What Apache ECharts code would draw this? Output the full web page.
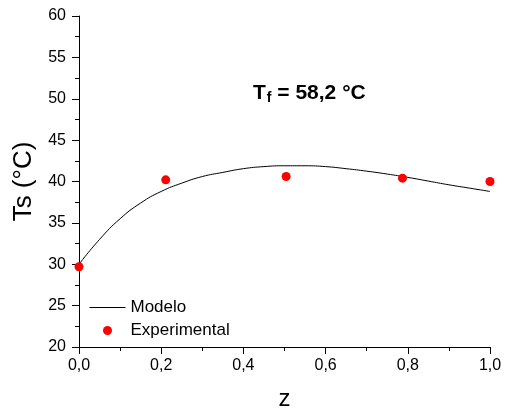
<!DOCTYPE html>
<html>
<head>
<meta charset="utf-8">
<script src="https://cdn.jsdelivr.net/npm/echarts@6/dist/echarts.min.js"></script>
<style>
  html, body { margin: 0; padding: 0; background: #fff; }
  #chart { width: 508px; height: 416px; }
</style>
</head>
<body>
<div id="chart"></div>
<script>
// curva do modelo
const zModel = [0, 0.05, 0.1, 0.15, 0.2, 0.25, 0.3, 0.35, 0.4, 0.45, 0.5, 0.55, 0.6, 0.65, 0.7, 0.75, 0.8, 0.85, 0.9, 0.95, 1.0]
const tsModel = [30.0, 33.0, 35.5, 37.4, 38.8, 39.8, 40.6, 41.1, 41.55, 41.8, 41.9, 41.9, 41.8, 41.55, 41.25, 40.9, 40.5, 40.05, 39.6, 39.2, 38.8]

// pontos experimentais
const zExp = [0, 0.211, 0.504, 0.787, 1.0]
const tsExp = [29.7, 40.2, 40.6, 40.4, 40.0]

const font = 'Liberation Sans, Arial, sans-serif'
const chart = echarts.init(document.getElementById('chart'))

chart.setOption({
  animation: false,
  backgroundColor: '#fff',
  title: {
    text: '{a|T}{b|f}{a| = 58,2 °C}',
    left: 248,
    top: 77,
    textStyle: {
      rich: {
        a: { fontFamily: font, fontSize: 21, fontWeight: 'bold', color: '#000' },
        b: { fontFamily: font, fontSize: 14, fontWeight: 'bold', color: '#000', padding: [9, 0, 0, 1] },
      },
    },
  },
  legend: {
    show: true,
    orient: 'vertical',
    left: 84,
    top: 294,
    itemWidth: 36,
    itemHeight: 9,
    itemGap: 6,
    textStyle: { fontFamily: font, fontSize: 17, color: '#000' },
    data: [
      { name: 'Modelo', itemStyle: { opacity: 0 }, lineStyle: { width: 1 } },
      'Experimental',
    ],
  },
  grid: { left: 79, right: 18, top: 16, bottom: 69 },
  xAxis: {
    type: 'value',
    min: 0,
    max: 1,
    interval: 0.2,
    name: 'z',
    nameLocation: 'middle',
    nameGap: 40,
    nameTextStyle: { fontFamily: font, fontSize: 24, color: '#000' },
    axisLine: { lineStyle: { color: '#000', width: 1 } },
    axisTick: { inside: false, length: 7, lineStyle: { color: '#000' } },
    minorTick: { show: true, splitNumber: 2, length: 4, lineStyle: { color: '#000' } },
    splitLine: { show: false },
    axisLabel: {
      fontFamily: font,
      fontSize: 16,
      color: '#000',
      margin: 11,
      formatter: (v) => v.toFixed(1).replace('.', ','),
    },
  },
  yAxis: {
    type: 'value',
    min: 20,
    max: 60,
    interval: 5,
    name: 'Ts (°C)',
    nameLocation: 'middle',
    nameGap: 38,
    nameTextStyle: { fontFamily: font, fontSize: 26, color: '#000' },
    axisLine: { show: true, lineStyle: { color: '#000', width: 1 } },
    axisTick: { show: true, length: 7, lineStyle: { color: '#000' } },
    minorTick: { show: true, splitNumber: 2, length: 4, lineStyle: { color: '#000' } },
    splitLine: { show: false },
    axisLabel: { fontFamily: font, fontSize: 16, color: '#000', margin: 13 },
  },
  series: [
    {
      name: 'Modelo',
      type: 'line',
      data: zModel.map((z, i) => [z, tsModel[i]]),
      smooth: true,
      symbol: 'none',
      lineStyle: { color: '#000', width: 1 },
      itemStyle: { color: '#000' },
      z: 2,
    },
    {
      name: 'Experimental',
      type: 'scatter',
      data: zExp.map((z, i) => [z, tsExp[i]]),
      symbol: 'circle',
      symbolSize: 9,
      itemStyle: { color: '#ff0000', opacity: 1 },
      z: 3,
    },
  ],
})
</script>
</body>
</html>
